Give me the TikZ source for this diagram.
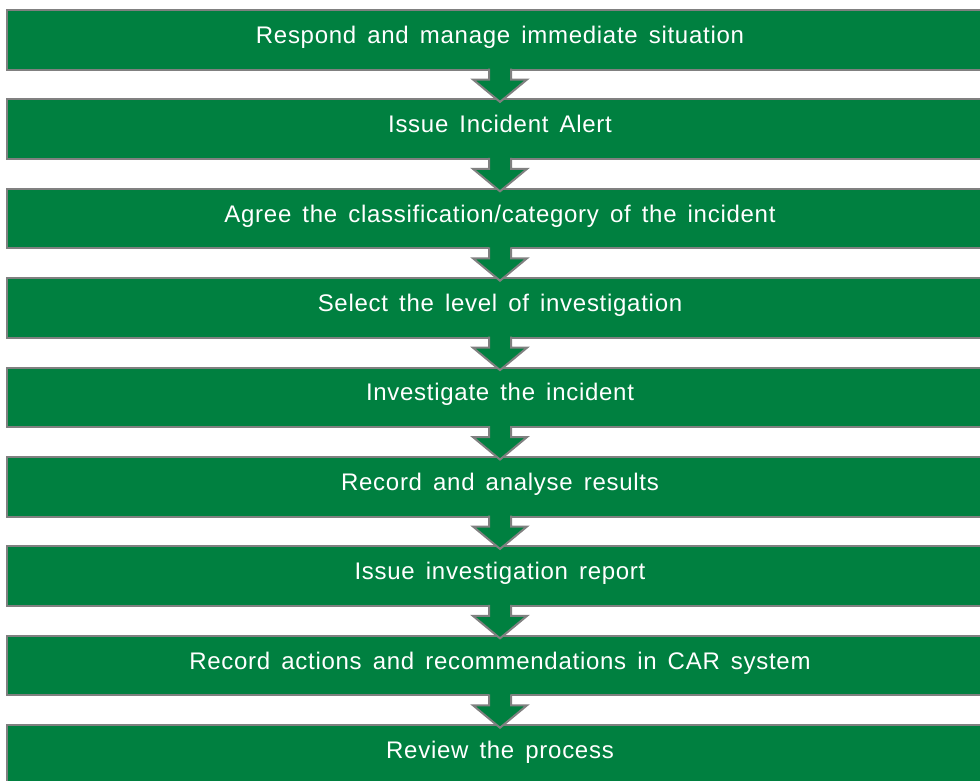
\documentclass[tikz,border=0pt]{standalone}
\usepackage{fontspec}
\setmainfont[LetterSpace=3,WordSpace=1.5]{Liberation Sans}
\usetikzlibrary{calc}
\definecolor{stepgreen}{HTML}{008040}
\definecolor{stepgray}{HTML}{808080}

\begin{document}
\begin{tikzpicture}[x=1pt,y=1pt,
		stepbox/.style={draw=stepgray,line width=2pt,fill=stepgreen,
			minimum width=986pt,minimum height=59.5pt,inner sep=0pt,outer sep=0pt,
			text=white,font=\fontsize{24}{28}\selectfont,
			text height=0.916em,text depth=0.2em},
		arrowline/.style={draw=stepgray,line width=2pt,line join=miter}]
			\useasboundingbox (0,0) rectangle (980,-780);
			% boxes
			\foreach \txt [count=\i] in {Respond and manage immediate situation,
				Issue Incident Alert,
				Agree the classification/category of the incident,
				Select the level of investigation,
				Investigate the incident,
				Record and analyse results,
				Issue investigation report,
				Record actions and recommendations in CAR system,
				Review the process}
				\node[stepbox] (s\i) at (500,{-39.75-89.4*(\i-1)}) {\txt};
			% arrows between the boxes
			\foreach \i [evaluate=\i as \j using int(\i+1)] in {1,...,8}{
				\fill[stepgreen] ($(s\i.south)+(-11,2)$) -- ++(0,-12) -- ++(-16,0)
					-- ($(s\j.north)+(0,-2.5)$) -- ($(s\i.south)+(27,-10)$)
					-- ++(-16,0) -- ++(0,12) -- cycle;
				\draw[arrowline] ($(s\i.south)+(-11,1)$) -- ++(0,-11) -- ++(-16,0)
					-- ($(s\j.north)+(0,-2.5)$) -- ($(s\i.south)+(27,-10)$)
					-- ++(-16,0) -- ++(0,11);
			}
		\end{tikzpicture}
\end{document}
